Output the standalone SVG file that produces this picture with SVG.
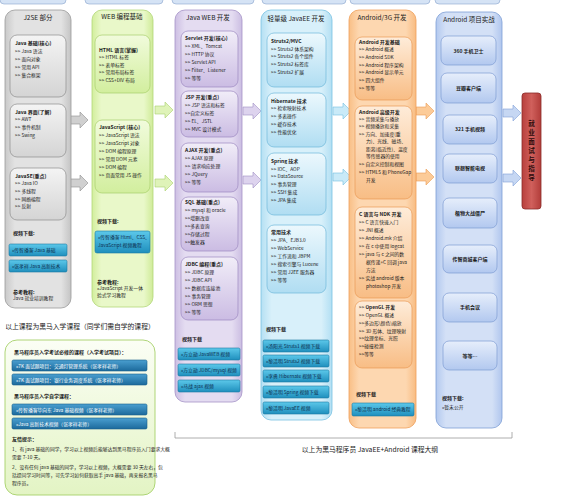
<svg xmlns="http://www.w3.org/2000/svg" width="572" height="500" viewBox="0 0 572 500">
<defs>
<linearGradient id="gGray" x1="0" y1="0" x2="1" y2="0"><stop offset="0" stop-color="#c9c9c9"/><stop offset="0.15" stop-color="#e2e2e2"/><stop offset="0.85" stop-color="#e2e2e2"/><stop offset="1" stop-color="#c4c4c4"/></linearGradient>
<linearGradient id="gGrayIn" x1="0" y1="0" x2="0" y2="1"><stop offset="0" stop-color="#f4f4f4"/><stop offset="1" stop-color="#d4d4d4"/></linearGradient>
<linearGradient id="gGreen" x1="0" y1="0" x2="1" y2="0"><stop offset="0" stop-color="#d2ee9c"/><stop offset="0.15" stop-color="#e9f8c9"/><stop offset="0.85" stop-color="#e9f8c9"/><stop offset="1" stop-color="#cfeb98"/></linearGradient>
<linearGradient id="gGreenIn" x1="0" y1="0" x2="0" y2="1"><stop offset="0" stop-color="#f1fbdc"/><stop offset="1" stop-color="#d2ee9e"/></linearGradient>
<linearGradient id="gPurple" x1="0" y1="0" x2="1" y2="0"><stop offset="0" stop-color="#cdbfe3"/><stop offset="0.15" stop-color="#e4dcf1"/><stop offset="0.85" stop-color="#e4dcf1"/><stop offset="1" stop-color="#cbbde2"/></linearGradient>
<linearGradient id="gPurpleIn" x1="0" y1="0" x2="0" y2="1"><stop offset="0" stop-color="#f1edf8"/><stop offset="1" stop-color="#cbbce3"/></linearGradient>
<linearGradient id="gBlue" x1="0" y1="0" x2="1" y2="0"><stop offset="0" stop-color="#b5e0f3"/><stop offset="0.15" stop-color="#d8f0fa"/><stop offset="0.85" stop-color="#d8f0fa"/><stop offset="1" stop-color="#b2dff3"/></linearGradient>
<linearGradient id="gBlueIn" x1="0" y1="0" x2="0" y2="1"><stop offset="0" stop-color="#ecf8fd"/><stop offset="1" stop-color="#b0ddf2"/></linearGradient>
<linearGradient id="gOrange" x1="0" y1="0" x2="1" y2="0"><stop offset="0" stop-color="#f9bf86"/><stop offset="0.15" stop-color="#fdd7b0"/><stop offset="0.85" stop-color="#fdd7b0"/><stop offset="1" stop-color="#f8bc82"/></linearGradient>
<linearGradient id="gOrangeIn" x1="0" y1="0" x2="0" y2="1"><stop offset="0" stop-color="#feecd9"/><stop offset="1" stop-color="#f8bd85"/></linearGradient>
<linearGradient id="gNavy" x1="0" y1="0" x2="1" y2="0"><stop offset="0" stop-color="#b3c9ef"/><stop offset="0.15" stop-color="#d3e0f6"/><stop offset="0.85" stop-color="#d3e0f6"/><stop offset="1" stop-color="#b0c6ee"/></linearGradient>
<linearGradient id="gNavyIn" x1="0" y1="0" x2="0" y2="1"><stop offset="0" stop-color="#e6eefb"/><stop offset="1" stop-color="#b2c8ef"/></linearGradient>
<linearGradient id="gBtn" x1="0" y1="0" x2="0" y2="1"><stop offset="0" stop-color="#5cc8ea"/><stop offset="1" stop-color="#1f8fbd"/></linearGradient>
<linearGradient id="gBtnDark" x1="0" y1="0" x2="0" y2="1"><stop offset="0" stop-color="#4a9fd0"/><stop offset="1" stop-color="#1c6a9c"/></linearGradient>
<linearGradient id="gRed" x1="0" y1="0" x2="1" y2="0"><stop offset="0" stop-color="#b8403d"/><stop offset="0.5" stop-color="#d0605c"/><stop offset="1" stop-color="#b23d3a"/></linearGradient>
<linearGradient id="gTip" x1="0" y1="0" x2="0" y2="1"><stop offset="0" stop-color="#fbfef5"/><stop offset="1" stop-color="#e3f4c4"/></linearGradient>
<path id="arr" d="M0,-4 H10 V-8 L18,0 L10,8 V4 H0 Z"/>
</defs>
<style>
text{font-family:"Noto Sans CJK SC","Liberation Sans",sans-serif;fill:#1a1a1a;}
.t{font-size:6.5px;}
.h{font-size:5px;font-weight:bold;}
.l{font-size:4.8px;}
.bt{font-size:4.8px;fill:#0d2f4f;}
.btn{fill:url(#gBtn);stroke:#1b7aa3;stroke-width:0.6;}
.btnd{fill:url(#gBtnDark);stroke:#1a5f8c;stroke-width:0.6;}
.c1{fill:url(#gGray);stroke:#9a9a9a;stroke-width:0.8;}
.i1{fill:url(#gGrayIn);stroke:#8c8c8c;stroke-width:0.7;}
.c2{fill:url(#gGreen);stroke:#b3d77a;stroke-width:0.8;}
.i2{fill:url(#gGreenIn);stroke:#a7cf6a;stroke-width:0.7;}
.c3{fill:url(#gPurple);stroke:#a593c6;stroke-width:0.8;}
.i3{fill:url(#gPurpleIn);stroke:#9c88c0;stroke-width:0.7;}
.c4{fill:url(#gBlue);stroke:#79c2e2;stroke-width:0.8;}
.i4{fill:url(#gBlueIn);stroke:#6fb8da;stroke-width:0.7;}
.c5{fill:url(#gOrange);stroke:#efa05a;stroke-width:0.8;}
.i5{fill:url(#gOrangeIn);stroke:#e99a55;stroke-width:0.7;}
.c6{fill:url(#gNavy);stroke:#7f9fd6;stroke-width:0.8;}
.i6{fill:url(#gNavyIn);stroke:#7d9bd3;stroke-width:0.7;}
.mid{text-anchor:middle;}
</style>
<rect width="572" height="500" fill="#ffffff"/>
<!-- top remnants -->
<g id="topbar">
<rect x="0" y="-10" width="66" height="14" rx="4" fill="#d5e3f5" stroke="#8aa5cc" stroke-width="0.6"/>
<rect x="85" y="-10" width="78" height="14" rx="4" fill="#d5e3f5" stroke="#8aa5cc" stroke-width="0.6"/>
<rect x="172" y="-10" width="82" height="14" rx="4" fill="#d5e3f5" stroke="#8aa5cc" stroke-width="0.6"/>
<rect x="262" y="-10" width="84" height="14" rx="4" fill="#d5e3f5" stroke="#8aa5cc" stroke-width="0.6"/>
<rect x="350" y="-10" width="80" height="14" rx="4" fill="#d5e3f5" stroke="#8aa5cc" stroke-width="0.6"/>
<rect x="435" y="-10" width="65" height="14" rx="4" fill="#d5e3f5" stroke="#8aa5cc" stroke-width="0.6"/>
</g>
<g id="connectors">
<use href="#arr" x="70" y="120" fill="#d0d0d0" stroke="#8e8e8e" stroke-width="0.6"/>
<use href="#arr" x="70" y="183" fill="#d0d0d0" stroke="#8e8e8e" stroke-width="0.6"/>
<use href="#arr" x="155" y="110" fill="#dff3b8" stroke="#a9d06e" stroke-width="0.6"/>
<use href="#arr" x="155" y="183" fill="#dff3b8" stroke="#a9d06e" stroke-width="0.6"/>
<use href="#arr" x="243" y="111" fill="#ddd3ee" stroke="#a08ec4" stroke-width="0.6"/>
<use href="#arr" x="243" y="180" fill="#ddd3ee" stroke="#a08ec4" stroke-width="0.6"/>
<use href="#arr" x="333" y="111" fill="#c9eaf8" stroke="#74c0e0" stroke-width="0.6"/>
<use href="#arr" x="333" y="177" fill="#c9eaf8" stroke="#74c0e0" stroke-width="0.6"/>
<use href="#arr" x="416" y="111" fill="#fccb98" stroke="#eb9c55" stroke-width="0.6"/>
<use href="#arr" x="416" y="177" fill="#fccb98" stroke="#eb9c55" stroke-width="0.6"/>
<use href="#arr" x="503" y="113" fill="#c6d7f3" stroke="#7f9fd6" stroke-width="0.6"/>
<use href="#arr" x="503" y="178" fill="#c6d7f3" stroke="#7f9fd6" stroke-width="0.6"/>
</g>
<!-- Column 1 -->
<g id="col-j2se">
<rect class="c1" x="5" y="10" width="66" height="298" rx="10"/>
<text class="t mid" x="38" y="20">J2SE 部分</text>
<rect class="i1" x="10" y="35" width="56" height="62" rx="7"/>
<text class="h" x="15" y="45">Java 基础(核心)</text>
<text class="l" x="15" y="53">&gt;&gt; Java 语法</text>
<text class="l" x="15" y="61">&gt;&gt; 面向对象</text>
<text class="l" x="15" y="69">&gt;&gt; 常用 API</text>
<text class="l" x="15" y="77">&gt;&gt; 集合框架</text>
<rect class="i1" x="10" y="104" width="56" height="53" rx="7"/>
<text class="h" x="15" y="114">Java 界面(了解)</text>
<text class="l" x="15" y="121">&gt;&gt; AWT</text>
<text class="l" x="15" y="129">&gt;&gt; 事件机制</text>
<text class="l" x="15" y="137">&gt;&gt; Swing</text>
<rect class="i1" x="10" y="168" width="56" height="52" rx="7"/>
<text class="h" x="15" y="178">JavaSE(重点)</text>
<text class="l" x="15" y="185">&gt;&gt; Java IO</text>
<text class="l" x="15" y="193">&gt;&gt; 多线程</text>
<text class="l" x="15" y="201">&gt;&gt; 网络编程</text>
<text class="l" x="15" y="208">&gt;&gt; 反射</text>
<text class="h" x="13" y="235">视频下载:</text>
<rect class="btn" x="9" y="244" width="58" height="12" rx="1.5"/>
<text class="bt" x="12" y="251.5">»传智播客 Java 基础</text>
<rect class="btn" x="9" y="260" width="58" height="12" rx="1.5"/>
<text class="bt" x="12" y="267.5">»张孝祥 Java 高新技术</text>
<text class="h" x="13" y="294">参考教程:</text>
<text class="l" x="13" y="300">Java 就业培训教程</text>
</g>
<!-- Column 2 -->
<g id="col-web">
<rect class="c2" x="92" y="10" width="61" height="297" rx="10"/>
<text class="t mid" x="122" y="19">WEB 编程基础</text>
<rect class="i2" x="95" y="35" width="55" height="58" rx="7"/>
<text class="h" x="99" y="52">HTML 语言(掌握)</text>
<text class="l" x="99" y="59">&gt;&gt; HTML 标签</text>
<text class="l" x="99" y="67">&gt;&gt; 表单标签</text>
<text class="l" x="99" y="74">&gt;&gt; 常用布局标签</text>
<text class="l" x="99" y="82">&gt;&gt; CSS+DIV 布局</text>
<rect class="i2" x="95" y="120" width="55" height="73" rx="7"/>
<text class="h" x="99" y="129">JavaScript (核心)</text>
<text class="l" x="99" y="137">&gt;&gt; JavaScript 语法</text>
<text class="l" x="99" y="145">&gt;&gt; JavaScript 对象</text>
<text class="l" x="99" y="153">&gt;&gt; DOM 编程原理</text>
<text class="l" x="99" y="161">&gt;&gt; 常用 DOM 元素</text>
<text class="l" x="99" y="169">&gt;&gt; DOM 编程</text>
<text class="l" x="99" y="177">&gt;&gt; 页面常用 JS 操作</text>
<text class="h" x="97" y="223">视频下载:</text>
<rect class="btn" x="95" y="231" width="55" height="22" rx="2"/>
<text class="bt" x="98" y="239">»传智播客 Html、CSS、</text>
<text class="bt" x="98" y="247">JavaScript 视频教程</text>
<text class="h" x="97" y="284">参考教程:</text>
<text class="l" x="97" y="290">»JavaScript 开发一体</text>
<text class="l" x="97" y="297">验式学习教程</text>
</g>
<!-- Column 3 -->
<g id="col-javaweb">
<rect class="c3" x="175" y="10" width="67" height="392" rx="10"/>
<text class="t mid" x="208" y="20">Java WEB 开发</text>
<rect class="i3" x="181" y="31" width="57" height="56" rx="7"/>
<text class="h" x="185" y="40">Servlet 开发(核心)</text>
<text class="l" x="185" y="48">&gt;&gt; XML、Tomcat</text>
<text class="l" x="185" y="56">&gt;&gt; HTTP 协议</text>
<text class="l" x="185" y="64">&gt;&gt; Servlet API</text>
<text class="l" x="185" y="72">&gt;&gt; Filter、Listener</text>
<text class="l" x="185" y="80">&gt;&gt; 等等</text>
<rect class="i3" x="181" y="91" width="57" height="46" rx="7"/>
<text class="h" x="185" y="99">JSP 开发(重点)</text>
<text class="l" x="185" y="107">&gt;&gt; JSP 语法和标签</text>
<text class="l" x="185" y="115">&gt;&gt;自定义标签</text>
<text class="l" x="185" y="123">&gt;&gt; EL、JSTL</text>
<text class="l" x="185" y="131">&gt;&gt; MVC 设计模式</text>
<rect class="i3" x="181" y="143" width="57" height="49" rx="7"/>
<text class="h" x="185" y="152">AJAX 开发(重点)</text>
<text class="l" x="185" y="160">&gt;&gt; AJAX 原理</text>
<text class="l" x="185" y="168">&gt;&gt; 请求响应处理</text>
<text class="l" x="185" y="176">&gt;&gt; JQuery</text>
<text class="l" x="185" y="184">&gt;&gt; 等等</text>
<rect class="i3" x="181" y="197" width="57" height="54" rx="7"/>
<text class="h" x="185" y="204">SQL 基础(重点)</text>
<text class="l" x="185" y="212">&gt;&gt; mysql 和 oracle</text>
<text class="l" x="185" y="220">&gt;&gt;增删改查</text>
<text class="l" x="185" y="228">&gt;&gt;多表查询</text>
<text class="l" x="185" y="236">&gt;&gt;存储过程</text>
<text class="l" x="185" y="244">&gt;&gt;触发器</text>
<rect class="i3" x="181" y="257" width="57" height="63" rx="7"/>
<text class="h" x="185" y="266">JDBC 编程(重点)</text>
<text class="l" x="185" y="274">&gt;&gt; JDBC 原理</text>
<text class="l" x="185" y="282">&gt;&gt; JDBC API</text>
<text class="l" x="185" y="290">&gt;&gt; 数据库连接池</text>
<text class="l" x="185" y="298">&gt;&gt; 事务管理</text>
<text class="l" x="185" y="306">&gt;&gt; ORM 思想</text>
<text class="l" x="185" y="314">&gt;&gt; 等等</text>
<text class="h" x="182" y="341">视频下载</text>
<rect class="btn" x="178" y="348" width="62" height="12" rx="1.5"/>
<text class="bt" x="181" y="355.5">»方立勋 JavaWEB 视频</text>
<rect class="btn" x="178" y="364" width="62" height="12" rx="1.5"/>
<text class="bt" x="181" y="371.5">»方立勋 JDBC/mysql 视频</text>
<rect class="btn" x="178" y="380" width="62" height="12" rx="1.5"/>
<text class="bt" x="181" y="387.5">»马战 ajax 视频</text>
</g>
<!-- Column 4 -->
<g id="col-javaee">
<rect class="c4" x="261" y="10" width="71" height="410" rx="10"/>
<text class="t mid" x="296" y="21">轻量级 JavaEE 开发</text>
<rect class="i4" x="267" y="33" width="59" height="54" rx="7"/>
<text class="h" x="271" y="43">Struts2/MVC</text>
<text class="l" x="271" y="51">&gt;&gt; Struts2 体系架构</text>
<text class="l" x="271" y="58">&gt;&gt; Struts2 各个组件</text>
<text class="l" x="271" y="66">&gt;&gt; Struts2 标签库</text>
<text class="l" x="271" y="74">&gt;&gt; Struts2 扩展</text>
<rect class="i4" x="267" y="93" width="59" height="54" rx="7"/>
<text class="h" x="271" y="103">Hibernate 技术</text>
<text class="l" x="271" y="110">&gt;&gt; 检索映射技术</text>
<text class="l" x="271" y="118">&gt;&gt; 多表操作</text>
<text class="l" x="271" y="126">&gt;&gt; 缓存技术</text>
<text class="l" x="271" y="134">&gt;&gt; 性能优化</text>
<rect class="i4" x="267" y="153" width="59" height="62" rx="7"/>
<text class="h" x="271" y="163">Spring 技术</text>
<text class="l" x="271" y="171">&gt;&gt; IOC、AOP</text>
<text class="l" x="271" y="178">&gt;&gt; DataSource</text>
<text class="l" x="271" y="186">&gt;&gt; 事务管理</text>
<text class="l" x="271" y="194">&gt;&gt; SSH 集成</text>
<text class="l" x="271" y="202">&gt;&gt; JPA 集成</text>
<rect class="i4" x="267" y="225" width="59" height="68" rx="7"/>
<text class="h" x="271" y="234">常用技术</text>
<text class="l" x="271" y="242">&gt;&gt; JPA、EJB3.0</text>
<text class="l" x="271" y="250">&gt;&gt; WebService</text>
<text class="l" x="271" y="258">&gt;&gt; 工作流和 JBPM</text>
<text class="l" x="271" y="266">&gt;&gt; 搜索引擎与 Lucene</text>
<text class="l" x="271" y="274">&gt;&gt; 常用 J2EE 服务器</text>
<text class="l" x="271" y="282">&gt;&gt; 等等</text>
<text class="h" x="266" y="331">视频下载</text>
<rect class="btn" x="263" y="340" width="66" height="12" rx="1.5"/>
<text class="bt" x="266" y="347.5">»汤阳光 Struts1 视频下载</text>
<rect class="btn" x="263" y="355" width="66" height="12" rx="1.5"/>
<text class="bt" x="266" y="362.5">»黎活明 Struts2 视频下载</text>
<rect class="btn" x="263" y="370" width="66" height="12" rx="1.5"/>
<text class="bt" x="266" y="377.5">»李勇 Hibernate 视频下载</text>
<rect class="btn" x="263" y="386" width="66" height="12" rx="1.5"/>
<text class="bt" x="266" y="393.5">»黎活明 Spring 视频下载</text>
<rect class="btn" x="263" y="402" width="66" height="12" rx="1.5"/>
<text class="bt" x="266" y="409.5">»黎活明 JavaEE 视频</text>
</g>
<!-- Column 5 -->
<g id="col-android">
<rect class="c5" x="349" y="10" width="67" height="418" rx="10"/>
<text class="t mid" x="382" y="20">Android/3G 开发</text>
<rect class="i5" x="355" y="37" width="57" height="63" rx="7"/>
<text class="h" x="359" y="44">Android 开发基础</text>
<text class="l" x="359" y="51">&gt;&gt; Android 概述</text>
<text class="l" x="359" y="59">&gt;&gt; Android SDK</text>
<text class="l" x="359" y="67">&gt;&gt; Android 程序架构</text>
<text class="l" x="359" y="74">&gt;&gt; Android 显示单元</text>
<text class="l" x="359" y="82">&gt;&gt; 四大组件</text>
<text class="l" x="359" y="90">&gt;&gt; 等等</text>
<rect class="i5" x="355" y="106" width="57" height="93" rx="7"/>
<text class="h" x="359" y="114">Android 高级开发</text>
<text class="l" x="359" y="121">&gt;&gt; 音频采集与播放</text>
<text class="l" x="359" y="128">&gt;&gt; 视频播放和采集</text>
<text class="l" x="359" y="136">&gt;&gt; 方向、加速度(重</text>
<text class="l" x="366" y="143">力)、光线、磁场、</text>
<text class="l" x="366" y="151">距离(临近性)、温度</text>
<text class="l" x="366" y="158">等传感器的使用</text>
<text class="l" x="359" y="166">&gt;&gt; 自定义控制和视图</text>
<text class="l" x="359" y="174">&gt;&gt; HTML5 和 PhoneGap</text>
<text class="l" x="366" y="182">开发</text>
<rect class="i5" x="355" y="207" width="57" height="91" rx="7"/>
<text class="h" x="359" y="216">C 语言与 NDK 开发</text>
<text class="l" x="359" y="224">&gt;&gt; C 语言快速入门</text>
<text class="l" x="359" y="232">&gt;&gt; JNI 概述</text>
<text class="l" x="359" y="240">&gt;&gt; Android.mk 介绍</text>
<text class="l" x="359" y="248">&gt;&gt; 在 c 中使用 logcat</text>
<text class="l" x="359" y="256">&gt;&gt; java 与 c 之间的数</text>
<text class="l" x="366" y="264">据传递+C 回调 java</text>
<text class="l" x="366" y="272">方法</text>
<text class="l" x="359" y="280">&gt;&gt; 实战 android 版本</text>
<text class="l" x="366" y="288">photoshop 开发</text>
<rect class="i5" x="355" y="301" width="57" height="67" rx="7"/>
<text class="l" x="359" y="309">&gt;&gt; <tspan font-weight="bold">OpenGL 开发</tspan></text>
<text class="l" x="359" y="317">&gt;&gt; OpenGL 概述</text>
<text class="l" x="359" y="325">&gt;&gt;多边形\颜色\缩放</text>
<text class="l" x="359" y="333">&gt;&gt; 3D 形体、纹理映射</text>
<text class="l" x="359" y="340">&gt;&gt;纹理坐标、光照</text>
<text class="l" x="359" y="348">&gt;&gt;碰撞检测</text>
<text class="l" x="359" y="356">&gt;&gt;等等</text>
<text class="h" x="356" y="396">视频下载</text>
<rect class="btn" x="352" y="403" width="62" height="13" rx="1.5"/>
<text class="bt" x="355" y="411">»黎活明 android 经典教程</text>
</g>
<!-- Column 6 -->
<g id="col-project">
<rect class="c6" x="436" y="12" width="66" height="416" rx="10"/>
<text class="t mid" x="469" y="22">Android 项目实战</text>
<rect class="i6" x="441" y="36" width="55" height="29" rx="6"/>
<text class="h mid" x="468.5" y="53">360 手机卫士</text>
<rect class="i6" x="441" y="73" width="55" height="30" rx="6"/>
<text class="h mid" x="468.5" y="90">豆瓣客户端</text>
<rect class="i6" x="443" y="115" width="54" height="29" rx="6"/>
<text class="h mid" x="470" y="131">321 手机视频</text>
<rect class="i6" x="443" y="154" width="54" height="29" rx="6"/>
<text class="h mid" x="470" y="170">联想智能电视</text>
<rect class="i6" x="443" y="198" width="54" height="30" rx="6"/>
<text class="h mid" x="470" y="215">植物大战僵尸</text>
<rect class="i6" x="443" y="245" width="54" height="28" rx="6"/>
<text class="h mid" x="470" y="261">传智商城客户端</text>
<rect class="i6" x="443" y="293" width="54" height="29" rx="6"/>
<text class="h mid" x="470" y="309">手机会议</text>
<rect class="i6" x="443" y="341" width="54" height="29" rx="6"/>
<text class="h mid" x="470" y="358">等等…</text>
<text class="h" x="442" y="400">视频下载:</text>
<text class="l" x="442" y="409">»暂未公开</text>
</g>
<!-- Red box -->
<g id="employ">
<rect x="522" y="93" width="19" height="116" rx="3" fill="url(#gRed)" stroke="#8c2b28" stroke-width="0.8"/>
<text x="531.5" y="126" text-anchor="middle" style="font-size:6.5px;font-weight:bold;fill:#2a0a0a">就</text>
<text x="531.5" y="135" text-anchor="middle" style="font-size:6.5px;font-weight:bold;fill:#2a0a0a">业</text>
<text x="531.5" y="144" text-anchor="middle" style="font-size:6.5px;font-weight:bold;fill:#2a0a0a">面</text>
<text x="531.5" y="153" text-anchor="middle" style="font-size:6.5px;font-weight:bold;fill:#2a0a0a">试</text>
<text x="531.5" y="162" text-anchor="middle" style="font-size:6.5px;font-weight:bold;fill:#2a0a0a">与</text>
<text x="531.5" y="171" text-anchor="middle" style="font-size:6.5px;font-weight:bold;fill:#2a0a0a">指</text>
<text x="531.5" y="180" text-anchor="middle" style="font-size:6.5px;font-weight:bold;fill:#2a0a0a">导</text>
</g>
<!-- Bottom left -->
<g id="entry">
<text x="80" y="329" text-anchor="middle" style="font-size:6.8px">以上课程为黑马入学课程（同学们需自学的课程）</text>
<rect x="5" y="340" width="150" height="155" rx="12" fill="url(#gTip)" stroke="#a6d06a" stroke-width="0.9"/>
<text class="h" x="14" y="354">黑马程序员入学考试必修的课程（入学考试项目）：</text>
<rect class="btnd" x="12" y="360" width="135" height="11" rx="1.5"/>
<text class="bt" x="16" y="367.5" style="fill:#ffffff">»7K 面试题项目：交通灯管理系统（张孝祥老师）</text>
<rect class="btnd" x="12" y="374" width="135" height="11" rx="1.5"/>
<text class="bt" x="16" y="381.5" style="fill:#ffffff">»7K 面试题项目：银行业务调度系统（张孝祥老师）</text>
<text class="h" x="14" y="398">黑马程序员入学自学课程：</text>
<rect class="btnd" x="12" y="404" width="135" height="11" rx="1.5"/>
<text class="bt" x="16" y="411.5" style="fill:#ffffff">»传智播客毕向东 Java 基础视频（张孝祥老师）</text>
<rect class="btnd" x="12" y="418" width="135" height="11" rx="1.5"/>
<text class="bt" x="16" y="425.5" style="fill:#ffffff">»Java 高新技术视频（张孝祥老师）</text>
<text class="h" x="12" y="441">友情提示：</text>
<text class="l" x="12" y="451">1、有 java 基础的同学，学习以上视频后能够达到黑马程序员入门要求大概</text>
<text class="l" x="12" y="459">需要 7-10 天。</text>
<text class="l" x="12" y="469">2、没有任何 java 基础的同学，学习以上视频，大概需要 30 天左右，包</text>
<text class="l" x="12" y="477">括提问学习时间等，可先学习如何获取高手 java 基础，再来报名黑马</text>
<text class="l" x="12" y="485">程序员。</text>
</g>
<!-- Bottom caption -->
<g id="caption">
<path d="M175,432 V438 H512 V432" fill="none" stroke="#9a9a9a" stroke-width="0.8"/>
<text x="370" y="452" text-anchor="middle" style="font-size:6.8px">以上为黑马程序员 JavaEE+Android 课程大纲</text>
</g>
</svg>
